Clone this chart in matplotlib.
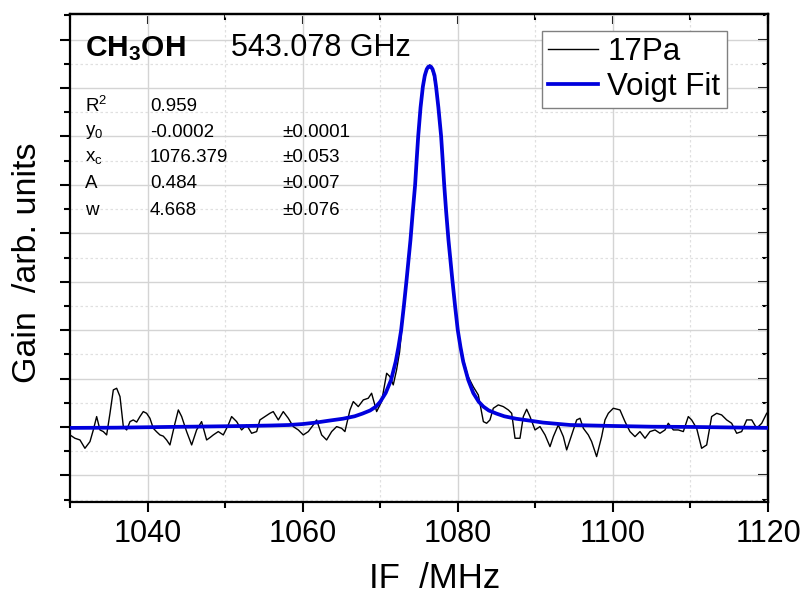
import numpy as np
import matplotlib
matplotlib.use("Agg")
import matplotlib.pyplot as plt
import matplotlib.font_manager as fm
from matplotlib.ticker import MultipleLocator, NullFormatter

names = {f.name for f in fm.fontManager.ttflist}
NARROW = 'Liberation Sans Narrow' if 'Liberation Sans Narrow' in names else 'Liberation Sans'
plt.rcParams['font.family'] = ['Liberation Sans', 'DejaVu Sans']
plt.rcParams['mathtext.fontset'] = 'custom'
plt.rcParams['mathtext.rm'] = 'Liberation Sans'
plt.rcParams['mathtext.it'] = 'Liberation Sans'
plt.rcParams['mathtext.bf'] = 'Liberation Sans:bold'

# ---- measured spectrum (17 Pa), gain in units of 1e-3 ----
freq_data = [
    1030.0, 1030.64, 1031.29, 1031.93, 1032.58, 1033.01, 1033.44, 1033.87, 1034.30, 1034.73,
    1035.16, 1035.59, 1036.02, 1036.45, 1036.88, 1037.31, 1037.74, 1038.16, 1038.6, 1039.02,
    1039.45, 1039.88, 1040.31, 1040.74, 1041.17, 1041.60, 1042.03, 1042.46, 1042.89, 1043.54,
    1043.97, 1044.40, 1045.04, 1045.69, 1046.33, 1046.97, 1047.62, 1048.05, 1048.48, 1049.12,
    1049.77, 1050.41, 1050.84, 1051.49, 1052.13, 1052.78, 1053.42, 1054.07, 1054.49, 1055.14,
    1055.78, 1056.21, 1056.86, 1057.50, 1058.15, 1058.79, 1059.44, 1060.08, 1060.73, 1061.37,
    1061.80, 1062.45, 1063.09, 1063.74, 1064.38, 1065.02, 1065.45, 1066.10, 1066.53, 1067.17,
    1067.82, 1068.46, 1068.89, 1069.54, 1070.18, 1070.83, 1071.25, 1071.68, 1072.11, 1072.5,
    1073.0, 1073.5, 1074.0, 1074.5, 1075.0, 1075.5, 1076.0, 1076.4, 1076.8, 1077.2,
    1077.8, 1078.3, 1078.8, 1079.3, 1080.0, 1080.7, 1081.3, 1082.0, 1082.65, 1083.30,
    1083.72, 1084.15, 1084.58, 1085.23, 1085.87, 1086.52, 1086.95, 1087.38, 1088.02, 1088.45,
    1088.88, 1089.31, 1089.96, 1090.60, 1091.25, 1091.89, 1092.32, 1092.96, 1093.61, 1094.04,
    1094.68, 1095.33, 1095.76, 1096.19, 1096.83, 1097.26, 1097.90, 1098.55, 1098.98, 1099.41,
    1100.05, 1100.91, 1101.56, 1102.20, 1102.85, 1103.49, 1104.14, 1104.78, 1105.43, 1106.07,
    1106.72, 1107.14, 1107.79, 1108.43, 1109.08, 1109.72, 1110.15, 1110.80, 1111.44, 1112.09,
    1112.73, 1113.38, 1114.02, 1114.67, 1115.31, 1115.96, 1116.60, 1117.25, 1117.90, 1118.54,
    1119.19, 1119.83,
]
gain_data_milli = [
    -1.65, -2.34, -2.69, -4.41, -3.03, -0.62, 2.14, -0.62, -0.96, -1.65,
    2.82, 7.65, 7.99, 6.27, 0.07, -0.62, 1.10, 1.45, 1.0, 2.14,
    3.17, 2.82, 1.79, -0.28, -1.0, -1.65, -1.9, -2.69, -3.72, 0.76,
    3.51, 2.14, -0.96, -3.72, -0.62, 1.10, -2.69, -2.2, -1.65, -0.96,
    -1.65, 0.41, 2.14, 1.10, -0.62, 0.41, -1.31, -0.96, 1.45, 2.14,
    2.82, 3.17, 1.45, 3.17, 1.79, 0.07, -0.62, -1.65, -0.96, 0.41,
    1.45, -1.65, -2.69, -0.96, 0.07, -0.28, -0.96, 3.51, 5.24, 4.20,
    5.58, 5.93, 6.96, 3.17, 5.24, 11.09, 10.40, 8.68, 11.78, 15.5,
    24.0, 32.0, 40.5, 50.5, 62.0, 70.0, 73.8, 74.8, 73.2, 70.0,
    61.0, 49.0, 38.5, 30.0, 20.0, 14.0, 10.5, 8.3, 6.6, 1.1,
    0.76, 1.45, 3.86, 4.55, 4.20, 3.51, 2.82, -2.34, -2.34, 2.14,
    3.65, 2.14, -0.62, 0.07, -1.65, -4.07, -2.00, 0.41, -2.00, -4.75,
    -1.65, 1.45, 1.79, -0.28, -1.65, -3.03, -6.13, -2.00, 1.45, 2.82,
    3.86, 3.51, 1.10, -0.96, -2.00, -0.96, -2.34, -0.96, -0.62, -1.31,
    -0.62, 0.76, -0.62, -0.62, -0.96, 2.14, 1.45, -0.28, -4.41, -3.72,
    2.14, 2.82, 2.48, 1.45, 0.76, -1.31, -0.96, 1.45, 1.45, -0.28,
    0.76, 2.82,
]

# ---- Voigt fit curve (units of 1e-3) ----
freq_fit = [
    1030.0, 1036.0, 1042.7, 1048.0, 1052.7, 1056.0, 1058.2, 1060.0, 1061.7, 1063.4,
    1065.2, 1066.7, 1067.7, 1068.7, 1069.45, 1070.0, 1070.7, 1071.4, 1072.0, 1072.35,
    1072.7, 1073.05, 1073.4, 1073.65, 1073.9, 1074.2, 1074.5, 1074.7, 1074.9, 1075.2,
    1075.5, 1075.75, 1076.0, 1076.2, 1076.37, 1076.55, 1076.75, 1077.0, 1077.2, 1077.5,
    1077.85, 1078.05, 1078.25, 1078.5, 1078.8, 1079.05, 1079.3, 1079.65, 1080.0, 1080.35,
    1080.7, 1081.35, 1082.0, 1082.7, 1083.3, 1084.0, 1085.0, 1086.0, 1087.5, 1089.3,
    1091.0, 1094.5, 1100.0, 1105.0, 1110.0, 1115.0, 1120.0,
]
gain_fit_milli = [
    -0.2, -0.15, 0.0, 0.1, 0.2, 0.3, 0.4, 0.6, 0.9, 1.3,
    1.7, 2.2, 2.75, 3.4, 4.2, 5.2, 7.0, 9.7, 13.5, 16.5,
    20.0, 25.0, 30.4, 34.5, 38.6, 44.5, 50.0, 55.2, 60.1, 66.0,
    70.3, 72.6, 73.9, 74.4, 74.5, 74.4, 73.9, 72.6, 70.3, 66.0,
    60.1, 55.2, 50.0, 44.5, 38.6, 34.5, 30.4, 25.0, 20.0, 16.5,
    13.5, 9.7, 7.0, 5.2, 4.2, 3.4, 2.75, 2.2, 1.7, 1.3,
    0.9, 0.4, 0.2, 0.05, 0.0, -0.1, -0.2,
]

stat_names = [r'R$^2$', r'y$_0$', r'x$_c$', 'A', 'w']
stat_values = ['0.959', '-0.0002', '1076.379', '0.484', '4.668']
stat_errors = ['', '\u00b10.0001', '\u00b10.053', '\u00b10.007', '\u00b10.076']

gain_data = np.array(gain_data_milli) * 1e-3
gain_fit = np.array(gain_fit_milli) * 1e-3

fig = plt.figure(figsize=(8.07, 5.93), dpi=100)
ax = fig.add_axes([0.0867, 0.1535, 0.865, 0.8229])

ax.plot(freq_data, gain_data, color='black', lw=1.0, label='17Pa', zorder=3)
ax.plot(freq_fit, gain_fit, color='#0000dd', lw=2.7, label='Voigt Fit', zorder=4,
        solid_joinstyle='round')

ax.set_xlim(1030, 1120)
ax.set_ylim(-0.0155, 0.0853)

ax.xaxis.set_major_locator(MultipleLocator(20))
ax.xaxis.set_minor_locator(MultipleLocator(10))
ax.yaxis.set_major_locator(MultipleLocator(0.01))
ax.yaxis.set_minor_locator(MultipleLocator(0.005))
ax.yaxis.set_major_formatter(NullFormatter())

ax.grid(True, which='major', color='#d4d4d4', lw=1.0, ls='-')
ax.grid(True, which='minor', color='#e0e0e0', lw=0.9, ls=(0, (2, 2)))
ax.set_axisbelow(True)

for s in ax.spines.values():
    s.set_linewidth(1.6)

ax.tick_params(axis='both', which='major', length=7, width=1.5)
ax.tick_params(axis='both', which='minor', length=4.5, width=1.5)
ax.tick_params(axis='x', which='both', direction='out', top=False)
ax.tick_params(axis='y', which='both', direction='out', right=False)
ax.tick_params(axis='x', which='major', labelsize=22, pad=5)
for lab in ax.get_xticklabels():
    lab.set_family([NARROW, 'Liberation Sans'])

# inward ticks on top and right
secx = ax.secondary_xaxis('top')
secx.xaxis.set_major_locator(MultipleLocator(20))
secx.xaxis.set_minor_locator(MultipleLocator(10))
secx.tick_params(which='major', direction='in', length=7, width=1.5, labeltop=False)
secx.tick_params(which='minor', direction='in', length=4.5, width=1.5)
secx.spines['top'].set_linewidth(1.6)
secy = ax.secondary_yaxis('right')
secy.yaxis.set_major_locator(MultipleLocator(0.01))
secy.yaxis.set_minor_locator(MultipleLocator(0.005))
secy.tick_params(which='major', direction='in', length=7, width=1.5, labelright=False)
secy.tick_params(which='minor', direction='in', length=4.5, width=1.5)
secy.spines['right'].set_linewidth(1.6)

ax.set_xlabel('IF  /MHz', fontsize=25, family=[NARROW, 'Liberation Sans'])
ax.xaxis.set_label_coords(0.523, -0.122)
ax.set_ylabel('Gain  /arb. units', fontsize=24.5)
ax.yaxis.set_label_coords(-0.038, 0.49)

ax.text(0.0215, 0.914, r'$\mathbf{CH_3OH}$', transform=ax.transAxes, fontsize=21.5,
        va='baseline', ha='left')
ax.text(0.2307, 0.914, '543.078 GHz', transform=ax.transAxes, fontsize=22,
        va='baseline', ha='left')

rows_y = [0.811, 0.758, 0.705, 0.652, 0.598]
for yy, nm, val, err in zip(rows_y, stat_names, stat_values, stat_errors):
    ax.text(0.0215, yy, nm, transform=ax.transAxes, fontsize=13.5, va='center', ha='left')
    ax.text(0.1146, yy, val, transform=ax.transAxes, fontsize=13.5, va='center', ha='left')
    if err:
        ax.text(0.3037, yy, err, transform=ax.transAxes, fontsize=13.5, va='center', ha='left')

leg = ax.legend(loc='upper right', bbox_to_anchor=(0.941, 0.965), fontsize=22.5,
                frameon=True, fancybox=False, framealpha=1, edgecolor='#808080',
                handlelength=1.6, handletextpad=0.3, labelspacing=0.15,
                borderpad=0.2, borderaxespad=0.0)
leg.get_frame().set_linewidth(1.0)
leg.set_zorder(10)

fig.savefig('out.png', dpi=100)
